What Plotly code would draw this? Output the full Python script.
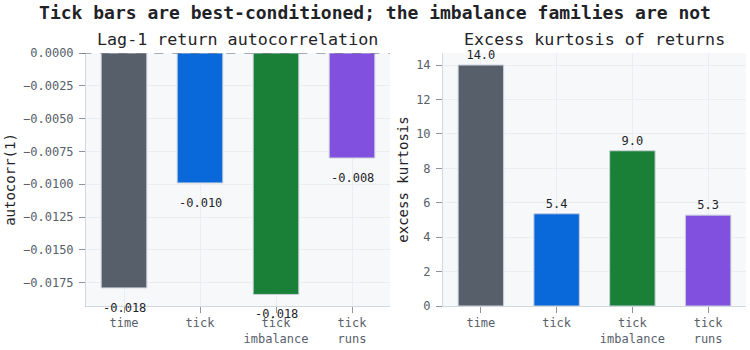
import plotly.graph_objects as go
from plotly.subplots import make_subplots

categories = ["time", "tick", "tick<br>imbalance", "tick<br>runs"]
autocorr = [-0.0179, -0.0099, -0.0184, -0.0080]
kurtosis = [14.0, 5.36, 9.02, 5.28]
colors = ["#57606a", "#0969da", "#1a7f37", "#8250df"]

FONT = "DejaVu Sans Mono"
TXT = "#1f2328"
MUTED = "#57606a"

fig = make_subplots(rows=1, cols=2, horizontal_spacing=0.08,
                    subplot_titles=("Lag-1 return autocorrelation", "Excess kurtosis of returns"))

fig.add_trace(go.Bar(x=categories, y=autocorr, marker=dict(color=colors, line=dict(color="#c9d1dc", width=1)),
                     width=0.6, showlegend=False, hoverinfo="x+y"), row=1, col=1)
for c, v in zip(categories, autocorr):
    fig.add_annotation(x=c, y=v, xref="x", yref="y", text=f"{v:.3f}", showarrow=False,
                       yanchor="top", yshift=-11, font=dict(color=TXT, size=12, family=FONT))

fig.add_trace(go.Bar(x=categories, y=kurtosis, marker=dict(color=colors, line=dict(color="#c9d1dc", width=1)),
                     width=0.6, text=[f"{v:.1f}" for v in kurtosis], textposition="outside",
                     textfont=dict(color=TXT, size=12, family=FONT), cliponaxis=False,
                     showlegend=False), row=1, col=2)

fig.add_shape(type="line", xref="x domain", yref="y", x0=-0.012, x1=1, y0=0, y1=0,
              line=dict(color="#57606a", width=1, dash="dash"))

axis_common = dict(showline=True, linecolor="#d0d7de", gridcolor="#eaeef2", ticks="outside",
                   ticklen=6, tickcolor="#8c959f", tickfont=dict(size=12, color=MUTED, family=FONT),
                   zeroline=False)
fig.update_xaxes(**axis_common)
fig.update_yaxes(**axis_common)
fig.update_yaxes(ticklabelstandoff=3)
fig.update_xaxes(domain=[0, 0.4606], row=1, col=1)
fig.update_xaxes(domain=[0.5409, 1], row=1, col=2)
fig.update_yaxes(range=[-0.01928, 0], dtick=0.0025, tickformat=".4f", row=1, col=1,
                 title=dict(text="autocorr(1)", font=dict(size=14, color=TXT, family=FONT), standoff=4))
fig.update_yaxes(range=[0, 14.7], dtick=2, row=1, col=2,
                 title=dict(text="excess kurtosis", font=dict(size=14, color=TXT, family=FONT), standoff=4))

for ann in list(fig.layout.annotations)[:2]:
    ann.font = dict(size=16.7, color=TXT, family=FONT)
    ann.y = 1.0
    ann.yshift = 2

fig.update_layout(
    width=750, height=350,
    margin=dict(l=86, r=4, t=53, b=42),
    paper_bgcolor="white", plot_bgcolor="#f6f8fa",
    font=dict(family=FONT, color=TXT),
    title=dict(text="<b>Tick bars are best-conditioned; the imbalance families are not</b>",
               x=0.5, xanchor="center", y=0.965, yanchor="middle",
               font=dict(size=18, color=TXT, family=FONT)),
    bargap=0.4,
)

fig.write_html("out.html")
